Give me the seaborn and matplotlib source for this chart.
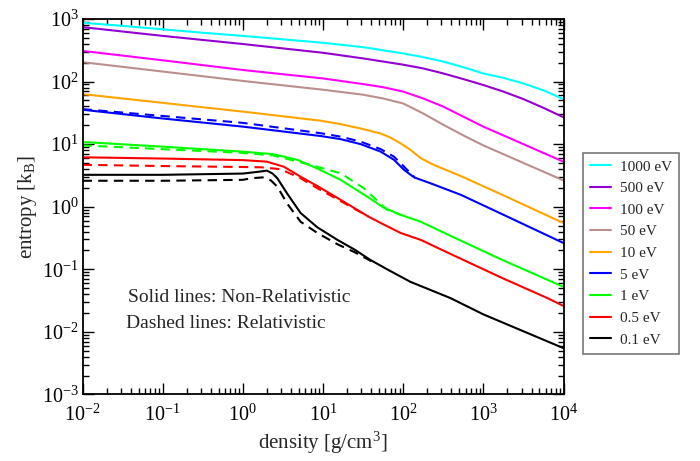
import numpy as np
import matplotlib
matplotlib.use("Agg")
import matplotlib.pyplot as plt
from matplotlib.ticker import FixedLocator, NullFormatter
from matplotlib.lines import Line2D
import seaborn as sns

# ---- data (log10 density, log10 entropy) ----
labels = ["1000 eV", "500 eV", "100 eV", "50 eV", "10 eV", "5 eV", "1 eV", "0.5 eV", "0.1 eV"]
colors = ["#00FFFF", "#9400D3", "#FF00FF", "#BC8F8F", "#FFA500", "#0000FF", "#00FF00", "#FF0000", "#000000"]
x_decades = [-2, -1, 0, 1, 2, 3, 4]
y_decades = [-3, -2, -1, 0, 1, 2, 3]

x_1000 = [-2, -1.5, -1, -0.5, 0, 0.5, 1.0, 1.5, 2.0, 2.25, 2.5, 2.75, 3.0, 3.25, 3.5, 3.75, 4.0]
y_1000 = [2.94, 2.89, 2.835, 2.78, 2.73, 2.675, 2.62, 2.55, 2.45, 2.39, 2.32, 2.23, 2.13, 2.06, 1.97, 1.86, 1.72]
x_500 = [-2, -1, 0, 1.0, 1.5, 2.0, 2.25, 2.5, 2.75, 3.0, 3.25, 3.5, 3.75, 4.0]
y_500 = [2.87, 2.73, 2.60, 2.46, 2.37, 2.27, 2.21, 2.13, 2.04, 1.945, 1.84, 1.72, 1.58, 1.43]
x_100 = [-2, -1, 0, 1.0, 1.5, 1.75, 2.0, 2.25, 2.5, 2.75, 3.0, 3.5, 4.0]
y_100 = [2.49, 2.34, 2.185, 2.05, 1.96, 1.91, 1.84, 1.73, 1.60, 1.44, 1.28, 1.00, 0.72]
x_50 = [-2, -1, 0, 1.0, 1.5, 1.75, 2.0, 2.25, 2.5, 2.75, 3.0, 3.5, 4.0]
y_50 = [2.31, 2.16, 2.01, 1.87, 1.79, 1.73, 1.65, 1.49, 1.31, 1.14, 0.98, 0.70, 0.42]
x_10 = [-2, -1, 0, 0.97, 1.22, 1.47, 1.72, 1.85, 1.97, 2.09, 2.22, 2.38, 2.72, 3.22, 4.0]
y_10 = [1.80, 1.66, 1.52, 1.375, 1.32, 1.25, 1.17, 1.10, 1.01, 0.91, 0.775, 0.67, 0.49, 0.20, -0.26]
x_5 = [-2, -1, 0, 0.97, 1.22, 1.47, 1.72, 1.885, 2.01, 2.135, 2.34, 2.72, 3.22, 4.0]
y_5 = [1.55, 1.41, 1.28, 1.13, 1.08, 1.00, 0.88, 0.75, 0.59, 0.47, 0.375, 0.19, -0.11, -0.58]
x_5r = [-2, -1, 0, 0.97, 1.22, 1.47, 1.72, 1.885, 2.03, 2.15]
y_5r = [1.56, 1.45, 1.34, 1.175, 1.12, 1.04, 0.92, 0.80, 0.615, 0.46]
x_1 = [-2, -1, 0, 0.38, 0.68, 0.93, 1.22, 1.59, 1.75, 1.97, 2.22, 2.6, 3.22, 4.0]
y_1 = [1.035, 0.96, 0.88, 0.84, 0.75, 0.61, 0.43, 0.13, -0.01, -0.13, -0.24, -0.47, -0.84, -1.28]
x_1r = [-2, -1, 0, 0.38, 0.84, 1.22, 1.51, 1.8, 1.97]
y_1r = [0.98, 0.92, 0.86, 0.82, 0.67, 0.535, 0.295, -0.05, -0.13]
x_05 = [-2, -1, 0, 0.3, 0.51, 0.72, 0.93, 1.22, 1.57, 1.72, 1.97, 2.22, 2.6, 3.22, 3.8, 4.0]
y_05 = [0.79, 0.77, 0.745, 0.72, 0.64, 0.48, 0.33, 0.11, -0.16, -0.26, -0.42, -0.53, -0.76, -1.13, -1.46, -1.585]
x_05r = [-2, -1, 0, 0.23, 0.47, 0.72, 0.93, 1.22, 1.57]
y_05r = [0.67, 0.65, 0.635, 0.63, 0.60, 0.455, 0.295, 0.09, -0.16]
x_01 = [-2, -1, 0, 0.1, 0.2, 0.3, 0.37, 0.43, 0.55, 0.72, 0.93, 1.18, 1.4, 1.59, 1.8, 2.09, 2.59, 3.0, 4.0]
y_01 = [0.51, 0.51, 0.53, 0.545, 0.56, 0.577, 0.53, 0.455, 0.215, -0.10, -0.33, -0.53, -0.69, -0.85, -1.0, -1.20, -1.46, -1.72, -2.26]
x_01r = [-2, -1, 0, 0.1, 0.26, 0.35, 0.43, 0.55, 0.72, 0.93, 1.18, 1.4, 1.6]
y_01r = [0.415, 0.415, 0.43, 0.455, 0.47, 0.42, 0.32, 0.055, -0.24, -0.42, -0.60, -0.73, -0.87]

solid = [(x_1000, y_1000), (x_500, y_500), (x_100, y_100), (x_50, y_50), (x_10, y_10),
         (x_5, y_5), (x_1, y_1), (x_05, y_05), (x_01, y_01)]
dashed = {5: (x_5r, y_5r), 6: (x_1r, y_1r), 7: (x_05r, y_05r), 8: (x_01r, y_01r)}

# ---- style ----
sns.set_style("ticks")
plt.rcParams["font.family"] = ["Liberation Serif", "DejaVu Serif"]
plt.rcParams["mathtext.fontset"] = "custom"
plt.rcParams["mathtext.rm"] = "Liberation Serif"
plt.rcParams["mathtext.it"] = "Liberation Serif:italic"

W, H = 700, 461
fig = plt.figure(figsize=(W / 100, H / 100), dpi=100)
ax = fig.add_axes([0.118, 0.1443, 0.687, 0.8145])

for i, (xs, ys) in enumerate(solid):
    sns.lineplot(x=10 ** np.array(xs, float), y=10 ** np.array(ys, float), ax=ax,
                 color=colors[i], lw=1.5, sort=False, estimator=None)
for i, (xs, ys) in dashed.items():
    sns.lineplot(x=10 ** np.array(xs, float), y=10 ** np.array(ys, float), ax=ax,
                 color=colors[i], lw=1.5, sort=False, estimator=None,
                 linestyle=(0, (4.5, 3)))
for ln in ax.get_lines():
    ln.set_solid_joinstyle("round")
    ln.set_dash_joinstyle("round")

ax.set_xscale("log")
ax.set_yscale("log")
ax.set_xlim(1e-2, 1e4)
ax.set_ylim(1e-3, 1e3)


def minor_positions(decades):
    return [m * 10.0 ** d for d in decades[:-1] for m in range(2, 10)]


ax.set_xticks([10.0 ** d for d in x_decades], [f"$10^{{{d}}}$" for d in x_decades])
ax.set_yticks([10.0 ** d for d in y_decades], [f"$10^{{{d}}}$" for d in y_decades])
ax.xaxis.set_minor_locator(FixedLocator(minor_positions(x_decades)))
ax.yaxis.set_minor_locator(FixedLocator(minor_positions(y_decades)))
ax.xaxis.set_minor_formatter(NullFormatter())
ax.yaxis.set_minor_formatter(NullFormatter())
ax.tick_params(which="both", direction="in", top=True, right=True, width=1.0, labelsize=14.5, colors="black")
ax.tick_params(which="major", length=8)
ax.tick_params(which="minor", length=4)
ax.tick_params(axis="x", which="major", pad=7)
ax.tick_params(axis="y", which="major", pad=3)
for s in ax.spines.values():
    s.set_linewidth(1.3)
    s.set_color("black")

ax.set_xlabel("density [g/cm$^3$]", fontsize=15, labelpad=3)
ax.set_ylabel("entropy [k$_\\mathrm{B}$]", fontsize=15, labelpad=2)

fig.text(128 / W, 1 - 297 / H, "Solid lines: Non-Relativistic", fontsize=14, va="center", ha="left")
fig.text(126 / W, 1 - 324 / H, "Dashed lines: Relativistic", fontsize=14, va="center", ha="left")

handles = [Line2D([], [], color=c, lw=1.5) for c in colors]
leg = fig.legend(handles, labels, loc="upper left", bbox_to_anchor=(583 / W, 1 - 153 / H),
                 fontsize=11, frameon=True, fancybox=False, borderaxespad=0, handlelength=1.4,
                 labelspacing=0.52, handletextpad=0.6, borderpad=0.45)
leg.get_frame().set_edgecolor("#555555")
leg.get_frame().set_linewidth(1.2)

fig.savefig("out.png", dpi=100)
